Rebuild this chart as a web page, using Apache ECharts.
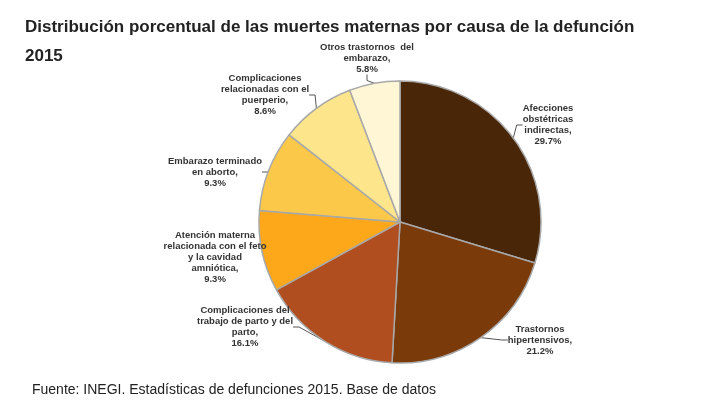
<!DOCTYPE html>
<html>
<head>
<meta charset="utf-8">
<script src="https://cdn.jsdelivr.net/npm/echarts@6/dist/echarts.min.js"></script>
<style>body{margin:0;background:#fff}#main{width:707px;height:410px}</style>
</head>
<body>
<div id="main"></div>
<script>
// 初始化
const myChart = echarts.init(document.getElementById('main'));
const data = [
    {name: 'Afecciones\nobstétricas\nindirectas,', value: 29.7, itemStyle: {color: '#4a2608'}},
    {name: 'Trastornos\nhipertensivos,', value: 21.2, itemStyle: {color: '#7a3a0a'}},
    {name: 'Complicaciones del\ntrabajo de parto y del\nparto,', value: 16.1, itemStyle: {color: '#b04e20'}},
    {name: 'Atención materna\nrelacionada con el feto\ny la cavidad\namniótica,', value: 9.3, itemStyle: {color: '#fca81a'}},
    {name: 'Embarazo terminado\nen aborto,', value: 9.3, itemStyle: {color: '#fcc84a'}},
    {name: 'Complicaciones\nrelacionadas con el\npuerperio,', value: 8.6, itemStyle: {color: '#fde58c'}},
    {name: 'Otros trastornos  del\nembarazo,', value: 5.8, itemStyle: {color: '#fff6d5'}}
];
// 标签位置
const labelPos = [[548, 125], [540, 340], [245, 327], [215, 257], [215, 172], [265, 95], [367, 58]];
const option = {
    title: [
        {text: 'Distribución porcentual de las muertes maternas por causa de la defunción\n2015',
         left: 20, top: 8,
         textStyle: {fontFamily: 'Liberation Sans', fontSize: 17, fontWeight: 'bold', color: '#222', lineHeight: 29}},
        {text: 'Fuente: INEGI. Estadísticas de defunciones 2015. Base de datos',
         left: 27, top: 378,
         textStyle: {fontFamily: 'Liberation Sans', fontSize: 14, fontWeight: 'normal', color: '#222'}}
    ],
    series: [{
        type: 'pie',
        center: [400, 222],
        radius: [0, 141],
        startAngle: 90,
        clockwise: true,
        itemStyle: {borderColor: '#a8a8a8', borderWidth: 1.5},
        label: {
            formatter: p => p.name + '\n' + p.value.toFixed(1) + '%',
            fontFamily: 'Liberation Sans', fontSize: 9.5, fontWeight: 'bold',
            color: '#333', lineHeight: 11, align: 'center'
        },
        labelLine: {show: true, lineStyle: {color: '#555', width: 1}, length: 10, length2: 6},
        labelLayout: p => ({
            x: labelPos[p.dataIndex][0],
            y: labelPos[p.dataIndex][1],
            align: 'center',
            verticalAlign: 'middle'
        }),
        data: data
    }]
};
myChart.setOption(option);
</script>
</body>
</html>
